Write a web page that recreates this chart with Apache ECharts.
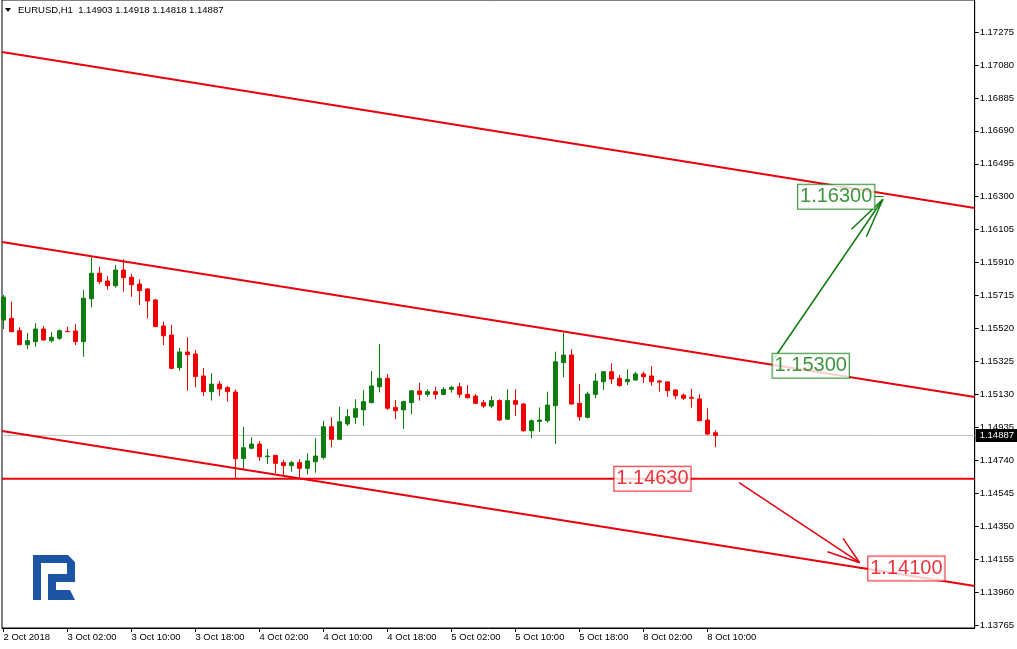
<!DOCTYPE html>
<html><head><meta charset="utf-8">
<script src="https://cdn.jsdelivr.net/npm/echarts@6/dist/echarts.min.js"></script>
<style>html,body{margin:0;padding:0;background:#fff;overflow:hidden}#c{width:1017px;height:649px}</style>
</head><body><div id="c"></div>
<script>
// ---- data ----
const symbolTitle = 'EURUSD,H1  1.14903 1.14918 1.14818 1.14887';
const opens = [1.15570,1.15580,1.15507,1.15424,1.15442,1.15517,1.15448,1.15462,1.15503,1.15505,
1.15442,1.15696,1.15847,1.15801,1.15773,1.15866,1.15823,1.15783,1.15754,1.15689,
1.15535,1.15481,1.15288,1.15381,1.15369,1.15239,1.15146,1.15191,1.15170,1.15144,
1.14750,1.14811,1.14836,1.14761,1.14769,1.14726,1.14708,1.14726,1.14692,1.14731,
1.14757,1.14938,1.14864,1.14955,1.14994,1.15038,1.15081,1.15175,1.15225,1.15053,
1.15038,1.15081,1.15150,1.15130,1.15146,1.15130,1.15160,1.15175,1.15130,1.15120,
1.15081,1.15061,1.15093,1.14983,1.15093,1.15073,1.14915,1.14970,1.14974,1.15063,
1.15318,1.15363,1.15077,1.14994,1.15130,1.15205,1.15264,1.15225,1.15205,1.15215,
1.15251,1.15239,1.15209,1.15204,1.15156,1.15126,1.15113,1.15103,1.14978,1.14903];
const highs = [1.15718,1.15679,1.15527,1.15493,1.15551,1.15535,1.15499,1.15515,1.15531,1.15547,
1.15748,1.15942,1.15886,1.15831,1.15896,1.15930,1.15843,1.15811,1.15758,1.15695,
1.15560,1.15541,1.15405,1.15468,1.15393,1.15286,1.15255,1.15209,1.15180,1.15160,
1.14938,1.14876,1.14854,1.14807,1.14771,1.14742,1.14737,1.14746,1.14781,1.14870,
1.14974,1.14994,1.15057,1.15043,1.15101,1.15156,1.15268,1.15428,1.15251,1.15097,
1.15093,1.15156,1.15199,1.15160,1.15175,1.15172,1.15180,1.15199,1.15185,1.15132,
1.15097,1.15120,1.15101,1.15160,1.15160,1.15077,1.14982,1.15053,1.15146,1.15383,
1.15495,1.15397,1.15191,1.15146,1.15255,1.15268,1.15314,1.15245,1.15279,1.15264,
1.15264,1.15298,1.15215,1.15205,1.15160,1.15136,1.15162,1.15132,1.15048,1.14918];
const lows = [1.15517,1.15499,1.15422,1.15397,1.15412,1.15448,1.15436,1.15452,1.15500,1.15422,
1.15353,1.15645,1.15783,1.15748,1.15761,1.15738,1.15708,1.15659,1.15580,1.15529,
1.15422,1.15278,1.15270,1.15152,1.15172,1.15120,1.15093,1.15120,1.15087,1.14630,
1.14686,1.14805,1.14736,1.14718,1.14663,1.14653,1.14672,1.14639,1.14657,1.14666,
1.14745,1.14817,1.14860,1.14943,1.14955,1.14945,1.15077,1.15142,1.15038,1.14984,
1.14926,1.15012,1.15093,1.15116,1.15101,1.15124,1.15140,1.15110,1.15106,1.15073,
1.15048,1.15048,1.14972,1.14978,1.15002,1.14909,1.14870,1.14909,1.14962,1.14836,
1.15231,1.15070,1.14974,1.14988,1.15107,1.15156,1.15191,1.15176,1.15185,1.15211,
1.15196,1.15180,1.15146,1.15116,1.15101,1.15097,1.15051,1.14972,1.14889,1.14818];
const closes = [1.15706,1.15501,1.15424,1.15448,1.15517,1.15452,1.15468,1.15507,1.15501,1.15442,
1.15699,1.15847,1.15797,1.15773,1.15866,1.15821,1.15779,1.15744,1.15683,1.15531,
1.15477,1.15284,1.15381,1.15365,1.15235,1.15146,1.15191,1.15162,1.15146,1.14749,
1.14814,1.14836,1.14761,1.14765,1.14722,1.14708,1.14726,1.14692,1.14736,1.14765,
1.14938,1.14864,1.14968,1.14998,1.15045,1.15087,1.15180,1.15225,1.15048,1.15033,
1.15087,1.15151,1.15130,1.15146,1.15130,1.15160,1.15172,1.15130,1.15110,1.15077,
1.15061,1.15093,1.14978,1.15093,1.15071,1.14915,1.14974,1.14978,1.15067,1.15323,
1.15363,1.15073,1.14998,1.15132,1.15209,1.15264,1.15221,1.15182,1.15219,1.15251,
1.15235,1.15205,1.15203,1.15152,1.15122,1.15107,1.15107,1.14974,1.14895,1.14887];
const timeTickBars = [0,8,16,24,32,40,48,56,64,72,80,88];
const timeTickLabels = ['2 Oct 2018','3 Oct 02:00','3 Oct 10:00','3 Oct 18:00','4 Oct 02:00','4 Oct 10:00',
  '4 Oct 18:00','5 Oct 02:00','5 Oct 10:00','5 Oct 18:00','8 Oct 02:00','8 Oct 10:00'];
const priceTicks = [1.13765,1.13960,1.14155,1.14350,1.14545,1.14740,1.14935,1.15130,1.15325,
  1.15520,1.15715,1.15910,1.16105,1.16300,1.16495,1.16690,1.16885,1.17080,1.17275];
const lastPrice = 1.14887;
// drawn objects in (bar index, price)
const channelUpper = [[-0.1875,1.171566],[121.4375,1.162332]];
const channelMiddle = [[-0.1875,1.160319],[121.4375,1.151144]];
const channelLower = [[-0.1875,1.149132],[121.4375,1.139957]];
const supportLevel = [[-0.1875,1.14630],[121.4375,1.14630]];
const lastPriceLine = [[-0.1875,lastPrice],[121.4375,lastPrice]];
const greenArrowShaft = [[96.22,1.153335],[109.97,1.162847]];
const greenArrowHead = [[106.03,1.161071],[109.97,1.162847],[107.90,1.160633]];
const greenConnector = [[108.78,1.16301],[110.06,1.16301]];
const redArrowShaft = [[91.98,1.146072],[107.06,1.141336]];
const redArrowHead = [[104.98,1.142780],[107.06,1.141336],[103.03,1.141986]];
const redConnector = [[107.06,1.14100],[108.35,1.14100]];
const greenLabels = [[104.125,1.16300],[100.94,1.15300]];
const redLabels = [[81.15,1.14630],[112.9,1.14100]];

// ---- chart ----
const FONT = '"Liberation Sans", Arial, sans-serif';
const RED = '#e8000b', GREEN = '#0c7c0c';
const candles = opens.map((o,i)=>[i,o,closes[i],lows[i],highs[i]]);
function lineSeries(data,color,width,z){
  return {type:'line',data:data,showSymbol:false,symbol:'none',silent:true,animation:false,
    lineStyle:{color:color,width:width},z:z||3,clip:true};
}
function labelSeries(data,color){
  return {type:'scatter',data:data,symbolSize:1,itemStyle:{color:'rgba(0,0,0,0)'},silent:true,animation:false,z:6,
    label:{show:true,position:'inside',formatter:p=>p.value[1].toFixed(5),color:color,fontFamily:FONT,fontSize:20,
      backgroundColor:'#fff',borderColor:color,borderWidth:1,padding:[2,2,1,2],lineHeight:21}};
}
const chart = echarts.init(document.getElementById('c'),null,{renderer:'canvas'});
const priceLineSeries = lineSeries(lastPriceLine,'#c0c0c0',1,1);
priceLineSeries.endLabel = {show:true,formatter:()=>lastPrice.toFixed(5),color:'#fff',backgroundColor:'#000',
  padding:[2,3,1,4],distance:1,fontFamily:FONT,fontSize:9.5};
chart.setOption({
  animation:false,
  backgroundColor:'#fff',
  grid:{left:2,top:0,width:973,height:628,show:true,borderColor:'#000',borderWidth:1,backgroundColor:'#fff'},
  xAxis:{type:'value',min:-0.1875,max:121.4375,
    axisLine:{show:true,onZero:false,lineStyle:{color:'#000',width:1}},
    splitLine:{show:false},
    axisTick:{show:true,customValues:timeTickBars,length:4,lineStyle:{color:'#000'}},
    axisLabel:{customValues:timeTickBars,formatter:v=>timeTickLabels[timeTickBars.indexOf(Math.round(v))]||'',
      align:'left',margin:4,color:'#000',fontFamily:FONT,fontSize:9.5}},
  yAxis:{type:'value',position:'right',min:1.137471,max:1.174644,scale:true,
    axisLine:{show:true,onZero:false,lineStyle:{color:'#000',width:1}},
    splitLine:{show:false},
    axisTick:{show:true,customValues:priceTicks,length:4,lineStyle:{color:'#000'}},
    axisLabel:{customValues:priceTicks,formatter:v=>v.toFixed(5),margin:5,color:'#000',fontFamily:FONT,fontSize:9.5}},
  graphic:[
    {type:'polygon',shape:{points:[[5,8],[11,8],[8,12]]},style:{fill:'#000'},z:100},
    {type:'text',x:18,y:5,style:{text:symbolTitle,fill:'#000',font:'9.5px '+FONT},z:100},
    {type:'polygon',x:33,y:555,z:100,shape:{points:[[0,0],[35,0],[42,7],[42,27],[23,27],[23,45],[15,45],[15,19],[34,19],[34,8],[8,8],[8,45],[0,45]]},style:{fill:'#1d55a5'}},
    {type:'polygon',x:33,y:555,z:100,shape:{points:[[23,35],[37,35],[42,45],[23,45]]},style:{fill:'#1d55a5'}}
  ],
  series:[
    priceLineSeries,
    {type:'candlestick',data:candles,barWidth:4,clip:true,z:2,
      itemStyle:{color:GREEN,color0:'#f00000',borderColor:GREEN,borderColor0:'#f00000',borderWidth:1}},
    lineSeries(channelUpper,RED,2),
    lineSeries(channelMiddle,RED,2),
    lineSeries(channelLower,RED,2),
    lineSeries(supportLevel,RED,2),
    lineSeries(greenArrowShaft,GREEN,1.5),
    lineSeries(greenArrowHead,GREEN,1.5),
    lineSeries(greenConnector,GREEN,1),
    lineSeries(redArrowShaft,RED,1.5),
    lineSeries(redArrowHead,RED,1.5),
    lineSeries(redConnector,RED,1),
    labelSeries(greenLabels,GREEN),
    labelSeries(redLabels,RED)
  ]
});
</script></body></html>
